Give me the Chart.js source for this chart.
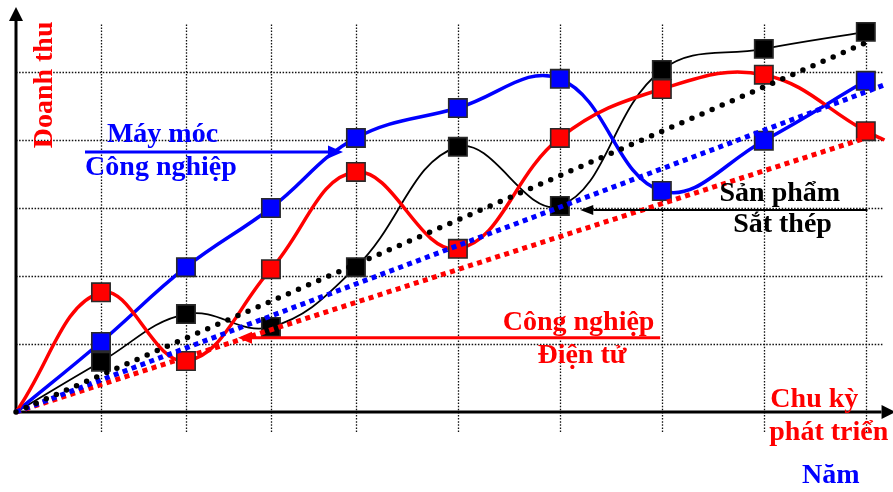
<!DOCTYPE html>
<html>
<head>
<meta charset="utf-8">
<script src="https://cdn.jsdelivr.net/npm/chart.js@4.4.1/dist/chart.umd.min.js"></script>
<style>
  html, body { margin: 0; padding: 0; background: #fff; }
  #wrap { width: 893px; height: 492px; }
</style>
</head>
<body>
<div id="wrap"><canvas id="c" width="893" height="492"></canvas></div>
<script>
// Development periods along the time axis
const periods = [0, 5, 10, 15, 20, 26, 32, 38, 44, 50];

// Revenue per industry
const mayMoc  = [0, 1.03, 2.13, 3.00, 4.03, 4.47, 4.90, 3.25, 3.99, 4.87];  // Máy móc Công nghiệp
const dienTu  = [0, 1.76, 0.75, 2.10, 3.53, 2.40, 4.03, 4.75, 4.96, 4.13];  // Công nghiệp Điện tử
const satThep = [0, 0.74, 1.44, 1.25, 2.13, 3.90, 3.03, 5.03, 5.34, 5.59];  // Sản phẩm Sắt thép

// Electronics curve keeps running past its last marker
const dienTuTailX = 51.1;
const dienTuTailY = 4.0;

// Straight trend lines from the origin: [start, end]
const trendSatThepX = [0, 49.9];
const trendSatThepY = [0, 5.42];
const trendMayMocX  = [0, 51.2];
const trendMayMocY  = [0, 4.82];
const trendDienTuX  = [0, 50];
const trendDienTuY  = [0, 4.03];

// Grid positions
const gridX = [5, 10, 15, 20, 26, 32, 38, 44, 50];
const gridY = [1, 2, 3, 4, 5];

const RED = '#ff0000', BLUE = '#0000ff', BLACK = '#000000';
const FONT = 'bold 28px "Liberation Serif", "Times New Roman", serif';

const pts = (xs, ys) => xs.map((x, i) => ({ x, y: ys[i] }));
const markerSizes = (n, extra) => {
  const r = Array(n).fill(13);
  r[0] = 0;
  for (let i = 0; i < extra; i++) r.push(0);
  return r;
};

function arrow(ctx, x1, y1, x2, y2, headLen, headHalf, width, color) {
  const ang = Math.atan2(y2 - y1, x2 - x1);
  const bx = x2 - headLen * Math.cos(ang), by = y2 - headLen * Math.sin(ang);
  ctx.save();
  ctx.strokeStyle = color; ctx.fillStyle = color; ctx.lineWidth = width;
  ctx.beginPath(); ctx.moveTo(x1, y1); ctx.lineTo(bx, by); ctx.stroke();
  ctx.beginPath();
  ctx.moveTo(x2, y2);
  ctx.lineTo(bx + headHalf * Math.sin(ang), by - headHalf * Math.cos(ang));
  ctx.lineTo(bx - headHalf * Math.sin(ang), by + headHalf * Math.cos(ang));
  ctx.closePath(); ctx.fill();
  ctx.restore();
}

// Dotted grid plus the two arrowed axes
const backdrop = {
  id: 'backdrop',
  beforeDatasetsDraw(chart) {
    const { ctx } = chart; const { x, y } = chart.scales;
    ctx.save();
    ctx.strokeStyle = '#111'; ctx.lineWidth = 1.3; ctx.setLineDash([1.5, 1.6]);
    gridX.forEach(v => {
      const X = Math.round(x.getPixelForValue(v)) + 0.5;
      ctx.beginPath(); ctx.moveTo(X, y.getPixelForValue(5.7)); ctx.lineTo(X, y.getPixelForValue(-0.31)); ctx.stroke();
    });
    gridY.forEach(v => {
      const Y = Math.round(y.getPixelForValue(v)) + 0.5;
      ctx.beginPath(); ctx.moveTo(x.getPixelForValue(0), Y); ctx.lineTo(x.getPixelForValue(51), Y); ctx.stroke();
    });
    ctx.restore();
    const ox = x.getPixelForValue(0), oy = y.getPixelForValue(0);
    arrow(ctx, ox, oy + 1, ox, y.getPixelForValue(5.956), 14, 7, 3, BLACK);
    arrow(ctx, ox - 1, oy, x.getPixelForValue(51.75), oy, 14, 7, 3, BLACK);
  }
};

// Series captions with their pointer arrows
const captions = {
  id: 'captions',
  afterDatasetsDraw(chart) {
    const { ctx } = chart; const { x, y } = chart.scales;
    const X = v => x.getPixelForValue(v), Y = v => y.getPixelForValue(v);
    const text = (t, cx, by, color) => {
      ctx.fillStyle = color; ctx.fillText(t, X(cx), Y(by));
    };
    ctx.save();
    ctx.font = FONT; ctx.textAlign = 'center'; ctx.textBaseline = 'alphabetic';

    arrow(ctx, X(4.06), Y(3.824), X(19.24), Y(3.824), 15, 6.5, 3, BLUE);
    text('Máy móc', 8.62, 3.975, BLUE);
    text('Công nghiệp', 8.53, 3.485, BLUE);

    arrow(ctx, X(50.1), Y(2.97), X(33.2), Y(2.97), 13, 5, 2, BLACK);
    text('Sản phẩm', 44.94, 3.103, BLACK);
    text('Sắt thép', 45.1, 2.65, BLACK);

    arrow(ctx, X(37.9), Y(1.093), X(13.06), Y(1.093), 14, 6, 3, RED);
    text('Công nghiệp', 33.1, 1.206, RED);
    text('Điện tử', 33.3, 0.72, RED);

    text('Chu kỳ', 46.97, 0.078, RED);
    text('phát triển', 47.82, -0.41, RED);
    text('Năm', 47.94, -1.044, BLUE);

    ctx.translate(X(2.12), Y(4.81));
    ctx.rotate(-Math.PI / 2);
    ctx.fillStyle = RED;
    ctx.fillText('Doanh thu', 0, 0);
    ctx.restore();
  }
};

const trend = (xs, ys, color, dotted) => ({
  data: pts(xs, ys),
  borderColor: color,
  borderWidth: dotted ? 5.5 : 5,
  borderDash: dotted ? [0, 11] : [5, 4.5],
  borderCapStyle: dotted ? 'round' : 'butt',
  pointRadius: 0,
  tension: 0,
  clip: false
});

const series = (ys, color, width, tail) => {
  const data = pts(periods, ys);
  if (tail) data.push(tail);
  return {
    data,
    borderColor: color,
    borderWidth: width,
    tension: 0.4,
    pointStyle: 'rect',
    pointRadius: markerSizes(periods.length, tail ? 1 : 0),
    pointBackgroundColor: color,
    pointBorderColor: '#2a2a2a',
    pointBorderWidth: 1.6,
    clip: false
  };
};

new Chart(document.getElementById('c'), {
  type: 'line',
  data: {
    datasets: [
      trend(trendSatThepX, trendSatThepY, BLACK, true),
      trend(trendMayMocX, trendMayMocY, BLUE, false),
      trend(trendDienTuX, trendDienTuY, RED, false),
      series(dienTu, RED, 3.5, { x: dienTuTailX, y: dienTuTailY }),
      series(mayMoc, BLUE, 3.5, null),
      series(satThep, BLACK, 1.8, null)
    ]
  },
  options: {
    responsive: false,
    devicePixelRatio: 1,
    animation: false,
    layout: { autoPadding: false, padding: { left: 16, right: 0, top: 4, bottom: 80 } },
    scales: {
      x: { type: 'linear', min: 0, max: 51.6, display: false },
      y: { type: 'linear', min: 0, max: 6, display: false }
    },
    plugins: { legend: { display: false }, tooltip: { enabled: false } }
  },
  plugins: [backdrop, captions]
});
</script>
</body>
</html>
